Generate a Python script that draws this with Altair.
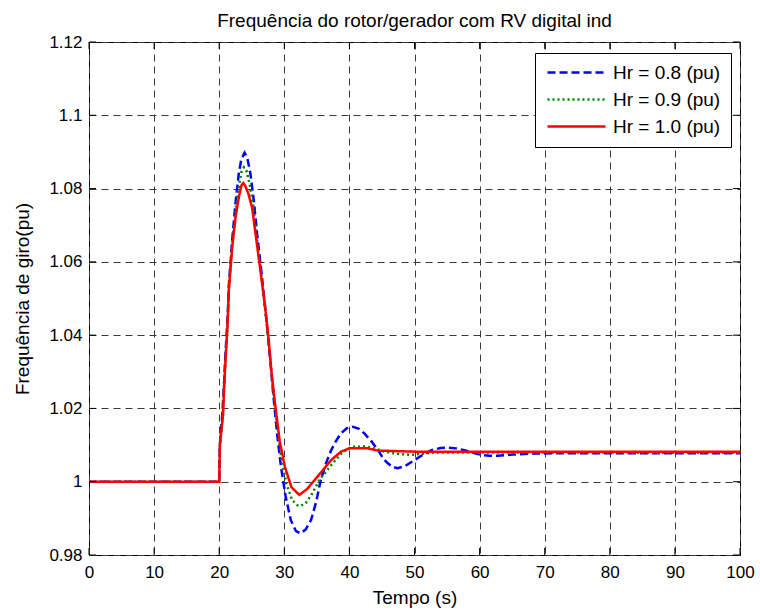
import altair as alt
import pandas as pd

# Rotor/generator speed response (pu) for three inertia constants
t_08 = [0, 20, 20.1, 20.5, 20.75, 21.0, 21.3, 21.5, 22.0, 22.5, 23.0, 23.4, 23.9, 24.3, 24.8,
        25.3, 25.8, 26.5, 27.2, 27.8, 28.3, 28.9, 29.5, 30.2, 31.0, 31.8, 32.5, 33.3, 34.1,
        34.9, 35.6, 36.4, 37.2, 38.0, 38.7, 39.6, 40.5, 41.4, 42.3, 43.4, 44.4, 45.2, 45.9,
        46.7, 47.4, 48.5, 50.0, 51.3, 52.6, 54.0, 55.1, 56.4, 57.7, 59.0, 60.3, 61.5, 62.8,
        65.0, 68.0, 75.0, 100.0]
f_08 = [1.0, 1.0, 1.010, 1.019, 1.027, 1.036, 1.045, 1.054, 1.066, 1.076, 1.084, 1.088, 1.0898,
        1.0885, 1.084, 1.077, 1.068, 1.057, 1.045, 1.034, 1.024, 1.013, 1.004, 0.996, 0.9895,
        0.9865, 0.9859, 0.9870, 0.9895, 0.9945, 1.0005, 1.0050, 1.0086, 1.0113, 1.0132, 1.0146,
        1.0150, 1.0145, 1.0132, 1.0110, 1.0086, 1.0063, 1.0050, 1.0040, 1.0037, 1.0042, 1.0059,
        1.0074, 1.0086, 1.0092, 1.0093, 1.0091, 1.0086, 1.0079, 1.0073, 1.0071, 1.0071, 1.0074,
        1.0077, 1.0078, 1.0078]

t_09 = [0, 20, 20.1, 20.55, 20.75, 21.0, 21.3, 21.5, 22.0, 22.5, 23.0, 23.4, 23.8, 24.2, 24.7,
        25.2, 25.7, 26.4, 27.1, 27.7, 28.2, 28.8, 29.5, 30.3, 31.2, 32.0, 32.5, 33.3, 34.3,
        35.4, 37.2, 38.8, 40.3, 42.5, 44.0, 45.4, 47.5, 49.5, 51.5, 53.0, 56.0, 100.0]
f_09 = [1.0, 1.0, 1.010, 1.0185, 1.026, 1.035, 1.0435, 1.0535, 1.065, 1.074, 1.0805, 1.0845,
        1.0858, 1.0848, 1.081, 1.0755, 1.068, 1.0575, 1.0465, 1.036, 1.0265, 1.0165, 1.007,
        0.9995, 0.9950, 0.9936, 0.9934, 0.9942, 0.9968, 1.0005, 1.0045, 1.0078, 1.0095, 1.0096,
        1.0090, 1.0082, 1.0076, 1.0073, 1.0077, 1.0080, 1.0080, 1.0079]

t_10 = [0, 20, 20.1, 20.6, 20.75, 21.0, 21.26, 21.5, 22.0, 22.5, 23.0, 23.4, 23.7, 24.0, 24.5,
        25.05, 25.56, 26.3, 27.07, 27.58, 28.08, 28.6, 29.3, 30.1, 31.1, 32.3, 33.5, 35.1,
        37.2, 38.7, 40.0, 42.8, 44.4, 50.0, 100.0]
f_10 = [1.0, 1.0, 1.010, 1.0185, 1.0257, 1.034, 1.042, 1.053, 1.064, 1.072, 1.0775, 1.0808,
        1.0815, 1.0808, 1.0785, 1.0748, 1.068, 1.058, 1.0475, 1.039, 1.029, 1.021, 1.011,
        1.004, 0.9985, 0.9964, 0.998, 1.0014, 1.0059, 1.0082, 1.0091, 1.0091, 1.0085, 1.0082,
        1.0082]

series_names = ["Hr = 0.8 (pu)", "Hr = 0.9 (pu)", "Hr = 1.0 (pu)"]
series_colors = ["#0000ff", "#008000", "#ff0000"]
series_dashes = [[8, 4], [2, 3], [1, 0]]

x_ticks = [0, 10, 20, 30, 40, 50, 60, 70, 80, 90, 100]
y_ticks = [0.98, 1.0, 1.02, 1.04, 1.06, 1.08, 1.1, 1.12]

FONT = "Liberation Sans"
W, H = 651, 513

rows = []
for name, ts, fs in zip(series_names, [t_08, t_09, t_10], [f_08, f_09, f_10]):
    for t, f in zip(ts, fs):
        rows.append({"t": t, "f": f, "serie": name})
df = pd.DataFrame(rows)
xt = pd.DataFrame({"x": x_ticks})
yt = pd.DataFrame({"y": y_ticks})

x_scale = alt.Scale(domain=[0, 100], nice=False, zero=False)
y_scale = alt.Scale(domain=[0.98, 1.12], nice=False, zero=False)

lines = alt.Chart(df).mark_line(strokeWidth=2.5, clip=True).encode(
    x=alt.X("t:Q", scale=x_scale,
            axis=alt.Axis(values=x_ticks, title="Tempo (s)", titleY=42,
                          titleBaseline="middle", labelFlush=False, labelPadding=9)),
    y=alt.Y("f:Q", scale=y_scale,
            axis=alt.Axis(values=y_ticks, format=".2~f", title="Frequência de giro(pu)",
                          titleX=-67, titleBaseline="middle")),
    color=alt.Color("serie:N", title=None,
                    scale=alt.Scale(domain=series_names, range=series_colors)),
    strokeDash=alt.StrokeDash("serie:N", title=None,
                              scale=alt.Scale(domain=series_names, range=series_dashes)),
)

tick_len = 7
xtick_bottom = alt.Chart(xt).mark_rule(color="black").encode(
    x=alt.X("x:Q", scale=x_scale), y=alt.value(H), y2=alt.value(H - tick_len))
xtick_top = alt.Chart(xt).mark_rule(color="black").encode(
    x=alt.X("x:Q", scale=x_scale), y=alt.value(0), y2=alt.value(tick_len))
ytick_left = alt.Chart(yt).mark_rule(color="black").encode(
    y=alt.Y("y:Q", scale=y_scale), x=alt.value(0), x2=alt.value(tick_len))
ytick_right = alt.Chart(yt).mark_rule(color="black").encode(
    y=alt.Y("y:Q", scale=y_scale), x=alt.value(W), x2=alt.value(W - tick_len))

chart = alt.layer(lines, xtick_bottom, xtick_top, ytick_left, ytick_right).properties(
    width=W, height=H,
    title=alt.TitleParams("Frequência do rotor/gerador com RV digital ind", font=FONT,
                          fontSize=19, fontWeight="normal", anchor="middle", offset=2,
                          color="black"),
    autosize=alt.AutoSizeParams(type="none"),
    padding={"left": 89, "top": 42, "right": 20, "bottom": 57},
).configure_view(
    stroke="black", strokeWidth=1
).configure_axis(
    grid=True, gridColor="#3a3a3a", gridDash=[7, 5], gridWidth=1, gridOpacity=1,
    domain=False, ticks=False, labelFont=FONT, labelFontSize=17, labelColor="black",
    labelPadding=7, titleFont=FONT, titleFontSize=19, titleFontWeight="normal",
    titleColor="black",
).configure_legend(
    orient="none", legendX=446, legendY=11, fillColor="white", strokeColor="black",
    padding=10, symbolType="M-3.5,0H25.5", symbolSize=16, symbolStrokeWidth=2.5,
    labelFont=FONT, labelFontSize=19, labelColor="black", labelOffset=49,
    rowPadding=7, symbolFillColor="transparent",
)

chart.save("out.html", embed_options={"renderer": "svg", "actions": False})
